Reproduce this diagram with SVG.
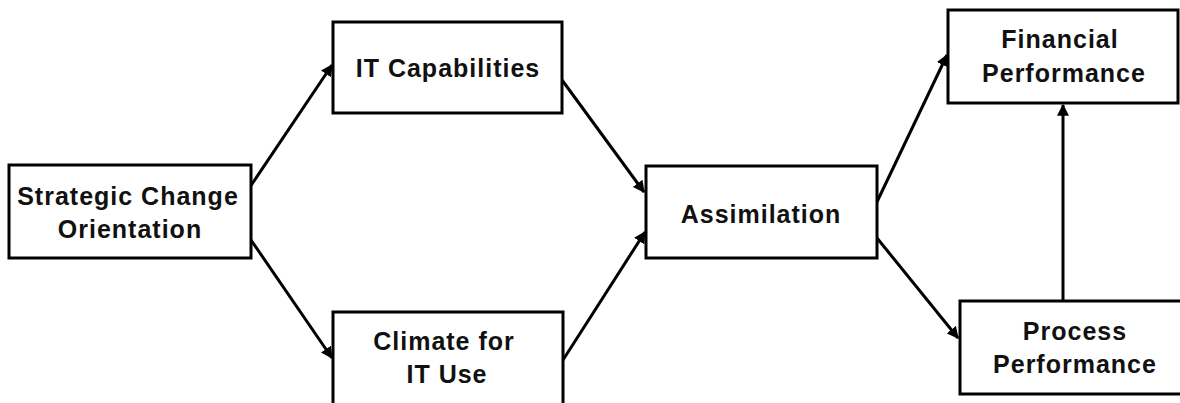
<svg xmlns="http://www.w3.org/2000/svg" width="1180" height="403" viewBox="0 0 1180 403">
<style>
.box{fill:#fff;stroke:#000;stroke-width:3}
.t{font-family:"Liberation Sans",Arial,sans-serif;font-weight:bold;font-size:25px;letter-spacing:1px;fill:#111;text-anchor:middle}
.c{stroke:#000;stroke-width:3;fill:none;marker-end:url(#ah)}
</style>
<defs>
<marker id="ah" viewBox="0 0 10 10" refX="9" refY="5" markerWidth="4" markerHeight="4" orient="auto" markerUnits="strokeWidth">
<path d="M0,0 L10,5 L0,10 z" fill="#000"/>
</marker>
</defs>
<rect width="1180" height="403" fill="#fff"/>
<g id="connectors">
<line class="c" x1="250" y1="187" x2="332" y2="65"/>
<line class="c" x1="251" y1="240" x2="332" y2="358"/>
<line class="c" x1="562" y1="80" x2="644" y2="192"/>
<line class="c" x1="563" y1="360" x2="645" y2="232"/>
<line class="c" x1="875" y1="206" x2="947" y2="55"/>
<line class="c" x1="877" y1="238" x2="958" y2="338"/>
<line class="c" x1="1063" y1="300" x2="1063" y2="105"/>
</g>
<g id="strategic">
<rect class="box" x="9" y="165" width="242" height="93"/>
<text class="t" x="128" y="205">Strategic Change</text>
<text class="t" x="130" y="238">Orientation</text>
</g>
<g id="itcap">
<rect class="box" x="333" y="22" width="229" height="91"/>
<text class="t" x="448" y="77">IT Capabilities</text>
</g>
<g id="climate">
<rect class="box" x="333" y="312" width="230" height="100"/>
<text class="t" x="444" y="350">Climate for</text>
<text class="t" x="447" y="383">IT Use</text>
</g>
<g id="assimilation">
<rect class="box" x="646" y="166" width="231" height="92"/>
<text class="t" x="761" y="223">Assimilation</text>
</g>
<g id="financial">
<rect class="box" x="948" y="10" width="230" height="93"/>
<text class="t" x="1060" y="48">Financial</text>
<text class="t" x="1064" y="82">Performance</text>
</g>
<g id="process">
<rect class="box" x="960" y="301" width="230" height="93"/>
<text class="t" x="1075" y="340">Process</text>
<text class="t" x="1075" y="373">Performance</text>
</g>
</svg>
